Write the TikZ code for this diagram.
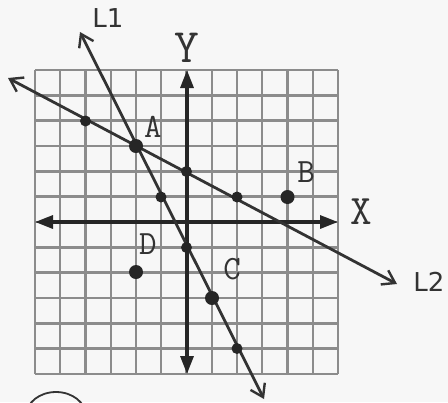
\documentclass[tikz,border=0pt]{standalone}
\usepackage{fontspec}
\setmainfont{Liberation Serif}
\newfontfamily\handfont{DejaVu Sans}
\usetikzlibrary{arrows.meta}
\begin{document}
\begin{tikzpicture}[x=0.5pt,y=-0.5pt,
  gridline/.style={line width=1.2pt,draw=black!45},
  axis/.style={line width=1.6pt,draw=black!85,{Triangle[length=9pt,width=6.5pt]}-{Triangle[length=9pt,width=6.5pt]}},
  lineL/.style={line width=1.4pt,draw=black!80,{Straight Barb[length=6pt,width=8pt,line width=1.2pt]}-{Straight Barb[length=6pt,width=8pt,line width=1.2pt]}},
  pt/.style={circle,fill=black!85,inner sep=0pt,minimum size=5.5pt},
  bigpt/.style={circle,fill=black!85,inner sep=0pt,minimum size=7pt},
  lab/.style={font=\ttfamily\fontsize{17}{17}\selectfont,text=black!80,inner sep=0pt},
  hand/.style={font=\handfont\fontsize{13}{13}\selectfont,text=black!80,inner sep=0pt}]
\fill[white!97!black] (0,0) rectangle (448,402);
\useasboundingbox (0,0) rectangle (448,402);
\begin{scope}
\clip (0,0) rectangle (448,402);
% grid
\foreach \i in {0,...,12} {
  \draw[gridline] ({35+25.25*\i},70) -- ({35+25.25*\i},374);
  \draw[gridline] (35,{70+25.33*\i}) -- (338,{70+25.33*\i});
}
% axes
\coordinate (yt) at (187,70);
\coordinate (yb) at (187,374);
\coordinate (xl) at (35,222);
\coordinate (xr) at (338,222);
\draw[axis] (yb) -- (yt);
\draw[axis] (xl) -- (xr);
% lines
\coordinate (L1s) at (80,32);
\coordinate (L1e) at (264,399);
\coordinate (L2s) at (8,78);
\coordinate (L2e) at (397,284);
\draw[lineL] (L1s) -- (L1e);
\draw[lineL] (L2s) -- (L2e);
% points
\node[bigpt] (A) at (136,146) {};
\node[pt] (p1) at (85.5,121) {};
\node[pt] (p2) at (186.5,171.5) {};
\node[pt] (p3) at (237,197) {};
\node[pt] (q1) at (161,197) {};
\node[pt] (q2) at (186.5,247.5) {};
\node[bigpt] (C) at (212,298) {};
\node[pt] (q4) at (237,348.5) {};
\node[bigpt] (B) at (287.5,197) {};
\node[bigpt] (D) at (136,272) {};
% labels
\node[lab] (lA) at (153,127) {A};
\node[lab] (lB) at (306,172) {B};
\node[lab] (lC) at (232,269) {C};
\node[lab] (lD) at (148,244) {D};
\node[lab,font=\ttfamily\fontsize{21}{21}\selectfont] (lX) at (361,212) {X};
\node[lab,font=\ttfamily\fontsize{24}{24}\selectfont] (lY) at (187,48) {Y};
\node[hand] (lL1) at (108,18) {L1};
\node[hand] (lL2) at (429,282) {L2};
% partial circle at bottom
\draw[line width=0.9pt,black!80] (56,416) ellipse (30 and 24);
\end{scope}
\end{tikzpicture}
\end{document}
